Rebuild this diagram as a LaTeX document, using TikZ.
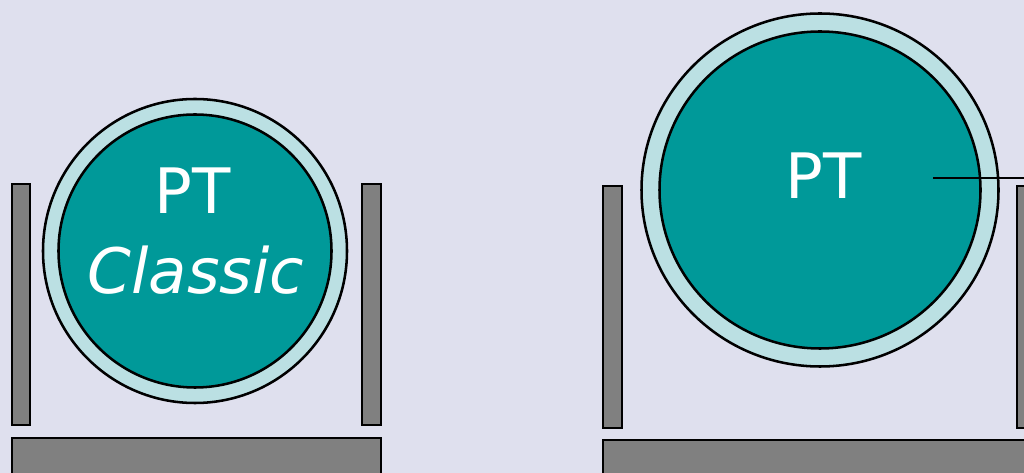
\documentclass[tikz,border=0pt]{standalone}
\usepackage{fontspec}
\setmainfont{DejaVu Sans}
\definecolor{bg}{HTML}{DFE0EE}
\definecolor{teal}{HTML}{009999}
\definecolor{ring}{HTML}{BBE0E3}
\definecolor{post}{HTML}{808080}
\begin{document}
\begin{tikzpicture}[x=0.75pt,y=-0.75pt,
  outl/.style={draw=black,line width=1.9pt},
  postbox/.style={outl,fill=post},
  label/.style={text=white,font=\fontsize{47}{56}\selectfont,anchor=base,inner sep=0pt}]
\fill[bg] (0,0) rectangle (1024,473);
\useasboundingbox (0,0) rectangle (1024,473);
\begin{scope}
\clip (0,0) rectangle (1024,473);
% left assembly
\draw[postbox] (12,184) rectangle (30,425);
\draw[postbox] (362,184) rectangle (381,425);
\draw[postbox] (12,438) rectangle (381,490);
\draw[outl,fill=ring] (195,251) circle[radius=152];
\draw[outl,fill=teal] (195,251) circle[radius=136.5];
\node[label] (lpt) at (193,214) {PT};
\node[label,font=\fontsize{47}{56}\selectfont\itshape] (lcl) at (196,294) {Classic};
% right assembly
\draw[postbox] (603,186) rectangle (622,428);
\draw[postbox] (1017,186) rectangle (1060,428);
\draw[postbox] (603,440) rectangle (1060,490);
\draw[outl,fill=ring] (820,190) ellipse[x radius=178.5,y radius=176.5];
\draw[outl,fill=teal] (820,190) ellipse[x radius=160.5,y radius=158.5];
\node[label] (rpt) at (824,199) {PT};
\coordinate (ls) at (933,178);
\coordinate (le) at (1030,178);
\draw[line width=1.9pt] (ls) -- (le);
\end{scope}
\end{tikzpicture}
\end{document}
